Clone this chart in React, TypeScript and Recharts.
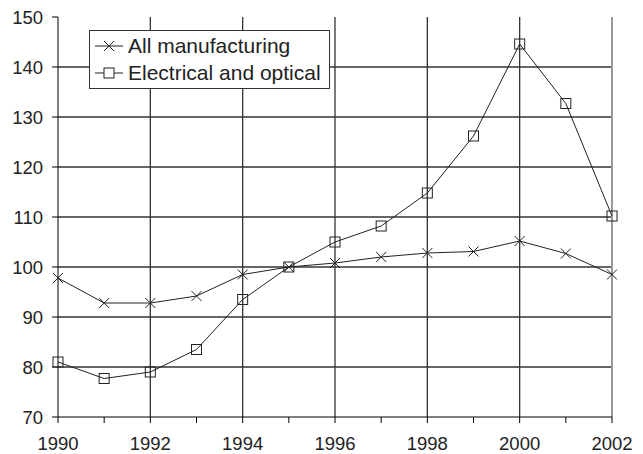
import React from "react";
import { LineChart, Line, XAxis, YAxis, ReferenceLine, Legend } from "recharts";

const years = [1990, 1991, 1992, 1993, 1994, 1995, 1996, 1997, 1998, 1999, 2000, 2001, 2002];
const allManufacturing = [97.8, 92.8, 92.8, 94.2, 98.5, 100, 100.8, 102, 102.8, 103.1, 105.2, 102.7, 98.5];
const electricalOptical = [81, 77.7, 79, 83.5, 93.5, 100, 105, 108.2, 114.8, 126.2, 144.6, 132.7, 110.2];
const labeledYears = [1990, 1992, 1994, 1996, 1998, 2000, 2002];
const yTicks = [70, 80, 90, 100, 110, 120, 130, 140, 150];
const gridValues = [80, 90, 100, 110, 120, 130, 140];
const gridYears = [1992, 1994, 1996, 1998, 2000];

const data = years.map((year, i) => ({
  year,
  all: allManufacturing[i],
  elec: electricalOptical[i],
}));

const FONT = "'Liberation Sans', Arial, sans-serif";
const INK = "#222";

// @ts-ignore
const CrossDot = (props) => {
  const { cx, cy, index } = props;
  if (cx == null || cy == null) return <g key={index} />;
  const s = 5;
  return (
    <path
      key={index}
      d={`M${cx - s},${cy - s}L${cx + s},${cy + s}M${cx - s},${cy + s}L${cx + s},${cy - s}`}
      stroke={INK}
      strokeWidth={1}
      fill="none"
    />
  );
};

// @ts-ignore
const SquareDot = (props) => {
  const { cx, cy, index } = props;
  if (cx == null || cy == null) return <g key={index} />;
  const s = 5;
  return <rect key={index} x={cx - s} y={cy - s} width={2 * s} height={2 * s} stroke={INK} strokeWidth={1} fill="none" />;
};

// @ts-ignore
const XTick = (props) => {
  const { x, y, payload } = props;
  if (!labeledYears.includes(payload.value)) return <g />;
  return (
    <text x={x} y={y} dy="0.71em" textAnchor="middle" fontSize={18.5} fontFamily={FONT} fill={INK}>
      {payload.value}
    </text>
  );
};

// @ts-ignore
const LegendBox = (props) => {
  const payload = props.payload || [];
  return (
    <div style={{ border: "1px solid #333", background: "#fff", padding: "1px 0", fontFamily: FONT }}>
      {/* @ts-ignore */}
      {payload.map((entry) => (
        <div key={entry.value} style={{ display: "flex", alignItems: "center", height: 27.5 }}>
          <svg width={38} height={14} style={{ flex: "none" }}>
            <line x1={5} y1={7} x2={33} y2={7} stroke={INK} strokeWidth={1} />
            {entry.dataKey === "all" ? (
              <path d="M14,2L24,12M14,12L24,2" stroke={INK} fill="none" />
            ) : (
              <rect x={14} y={2} width={10} height={10} stroke={INK} fill="#fff" />
            )}
          </svg>
          <span style={{ fontSize: 21, color: INK, whiteSpace: "nowrap" }}>{entry.value}</span>
        </div>
      ))}
    </div>
  );
};

export default function App() {
  return (
    <div style={{ position: "absolute", left: 0, top: 0, background: "#fff" }}>
      <LineChart width={643} height={454} data={data} margin={{ top: 17, right: 31, left: 0, bottom: 0 }}>
        {gridValues.map((v) => (
          <ReferenceLine key={`h${v}`} y={v} stroke="#333" strokeWidth={1.3} />
        ))}
        {gridYears.map((yr) => (
          <ReferenceLine key={`v${yr}`} x={yr} stroke="#333" strokeWidth={1.3} />
        ))}
        <ReferenceLine x={2002} stroke="#999" strokeWidth={2} />
        <XAxis
          dataKey="year"
          type="number"
          domain={[1990, 2002]}
          ticks={years}
          interval={0}
          tick={<XTick />}
          tickSize={6}
          tickMargin={14}
          height={37}
          axisLine={{ stroke: "#000" }}
          tickLine={{ stroke: "#000" }}
        />
        <YAxis
          type="number"
          domain={[70, 150]}
          ticks={yTicks}
          interval={0}
          width={58}
          tickSize={6}
          tickMargin={9}
          tick={{ fontSize: 18.5, fontFamily: FONT, fill: INK }}
          axisLine={{ stroke: "#000" }}
          tickLine={{ stroke: "#000" }}
        />
        <Legend
          layout="horizontal"
          verticalAlign="middle"
          align="center"
          wrapperStyle={{ left: 89, top: 30, width: 241 }}
          content={<LegendBox />}
        />
        <Line
          dataKey="all"
          name="All manufacturing"
          stroke={INK}
          strokeWidth={1}
          dot={<CrossDot />}
          activeDot={false}
          isAnimationActive={false}
        />
        <Line
          dataKey="elec"
          name="Electrical and optical"
          stroke={INK}
          strokeWidth={1}
          dot={<SquareDot />}
          activeDot={false}
          isAnimationActive={false}
        />
      </LineChart>
    </div>
  );
}
